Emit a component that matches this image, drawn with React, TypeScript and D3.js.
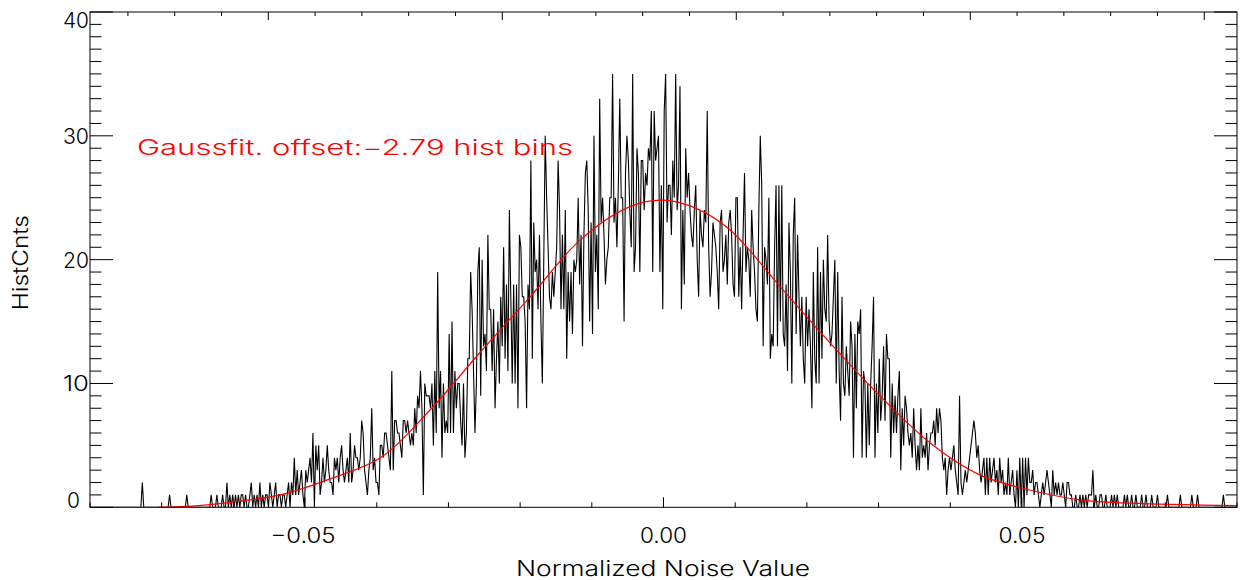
import React from "react";
import * as d3 from "d3";

// ---------------- data ----------------
const binStart = -0.08;
const binWidth = 0.0002;
const histCounts: number[] = [
  0,0,0,0,0,0,0,0,0,0, 0,0,0,0,0,0,0,0,0,0, 0,0,0,0,0,0,0,0,0,0, 0,0,0,0,0,0,2,0,0,0,
  0,0,0,0,0,0,0,0,0,0, 0,0,0,0,0,1,0,0,0,0, 0,0,0,0,0,0,0,1,0,0, 0,0,0,0,0,0,0,0,0,0,
  0,0,0,0,1,0,0,0,1,0, 0,0,1,0,0,2,0,1,0,1, 0,1,0,1,0,1,1,0,1,0, 0,1,2,0,1,0,1,0,2,0,
  1,0,1,1,0,2,1,0,1,2, 0,1,1,0,1,1,0,1,2,0, 2,1,4,1,3,1,2,3,1,0, 3,2,3,4,2,6,0,5,3,5,
  1,2,4,2,3,5,3,2,2,1, 4,3,4,2,4,5,3,2,3,4, 2,6,2,3,5,4,4,3,4,7, 6,3,2,1,3,4,8,3,4,2,
  2,1,5,5,4,6,6,5,4,3, 11,3,7,7,6,6,5,4,7,7, 6,7,6,5,6,5,8,6,9,8, 11,8,1,10,9,9,9,8,10,5,
  11,6,19,8,11,4,10,6,7,6, 14,6,15,6,11,8,10,10,7,5, 10,4,6,12,12,19,16,11,6,10, 19,21,9,20,13,14,11,22,16,16,
  11,16,8,12,15,10,17,13,21,12, 18,11,24,17,10,18,10,18,8,22, 21,17,17,15,8,18,16,28,12,23, 19,20,16,22,15,10,20,30,25,21,
  17,16,19,17,19,21,28,24,16,22, 16,24,12,19,15,19,14,20,19,20, 25,18,22,13,22,27,28,24,15,23, 14,30,19,22,16,33,23,25,22,18,
  20,21,25,25,35,23,25,21,26,33, 25,25,15,27,30,28,24,21,35,19, 21,29,27,19,28,28,24,27,26,29, 28,32,19,32,28,29,30,19,26,16,
  32,35,23,26,26,22,28,25,35,24, 26,34,16,24,18,29,25,27,24,22, 21,24,26,20,17,24,22,21,24,23, 32,21,17,19,23,22,21,19,16,23,
  24,19,20,22,18,23,24,22,18,17, 25,25,17,21,16,22,27,19,21,20, 17,24,21,19,16,15,24,30,26,13, 21,20,18,25,12,14,13,21,26,13,
  26,15,26,14,13,18,11,23,19,10, 22,25,14,22,17,13,17,12,10,17, 13,16,13,8,19,12,10,21,10,19, 12,20,16,15,22,15,13,14,17,20,
  10,19,11,7,17,10,9,13,11,9, 15,13,4,14,8,15,14,16,4,11, 10,4,10,5,10,13,17,4,10,6, 12,7,9,13,7,14,12,12,4,10,
  6,9,6,9,11,3,8,5,9,8, 6,5,6,4,8,5,3,5,3,8, 4,5,4,6,3,5,6,6,7,5, 8,6,8,7,4,3,4,1,3,4,
  3,4,5,3,2,1,9,2,1,2, 3,2,3,4,5,6,7,6,4,5, 3,2,3,4,1,4,1,4,2,3, 4,2,3,1,4,2,3,1,2,1,
  4,1,2,3,1,0,3,0,4,0, 4,0,4,1,4,2,2,3,1,2, 2,1,0,1,2,1,2,3,2,1, 0,3,1,2,1,2,1,1,2,1,
  0,2,2,1,1,0,0,1,0,0, 1,0,1,0,1,0,1,1,1,3, 0,1,0,0,1,1,0,0,1,0, 0,0,1,0,1,0,1,0,0,0,
  0,1,0,1,0,0,1,0,0,1, 0,0,0,1,0,0,1,0,0,0, 1,0,0,0,1,0,0,0,0,0, 0,1,0,0,0,0,0,0,0,0,
  1,0,0,0,0,0,0,0,1,0, 0,0,1,0,0,0,0,0,0,0, 0,0,0,0,0,0,0,0,0,0, 1,0,0,0,0,0,0,0,0,0,
];

// Gaussian fit curve
const fitX = [-0.0705, -0.0653, -0.0604, -0.0535, -0.0465, -0.0395, -0.0325, -0.0256, -0.0186, -0.0116, -0.0046, 0.0, 0.0047, 0.0093, 0.0163, 0.0232, 0.0302, 0.0372, 0.0442, 0.0511, 0.0581, 0.0651, 0.08];
const fitY = [0.0, 0.12, 0.4, 1.0, 2.3, 4.0, 7.9, 12.5, 17.0, 21.6, 24.3, 24.8, 24.1, 22.4, 17.8, 13.3, 9.0, 5.2, 2.6, 1.4, 0.6, 0.33, 0.13];

const xMajorTicks = [-0.05, 0.0, 0.05];
const xMajorLabels = ["\u22120.05", "0.00", "0.05"];
const xMinorTicks = [-0.08, -0.07, -0.06, -0.04, -0.03, -0.02, -0.01, 0.01, 0.02, 0.03, 0.04, 0.06, 0.07, 0.08];
const yMajorTicks = [0, 10, 20, 30, 40];
const yMajorLabels = ["0", "10", "20", "30", "40"];
const yMinorTicks = d3.range(0, 41, 1).filter((v) => v % 10 !== 0);
// secondary (unlabelled) top axis
const topDomain = [11.9, 257.0];
const topMajorTicks = [50, 100, 150, 200, 250];
const topMinorTicks = d3.range(20, 257, 10).filter((v) => v % 50 !== 0);

const xTitle = "Normalized Noise Value";
const yTitle = "HistCnts";
const fitNote = "Gaussfit. offset:\u22122.79 hist bins";

// ---------------- layout ----------------
const W = 1240;
const H = 580;
const L = 90;
const R = 1237;
const T = 12;
const B = 507.3;
const FONT = "Inter, Roboto, 'DejaVu Sans', sans-serif";
const FW = 300;

export default function App() {
  const x = d3.scaleLinear().domain([-0.08, 0.08]).range([L, R]);
  const y = d3.scaleLinear().domain([0, 40]).range([B, T]);
  const xTop = d3.scaleLinear().domain(topDomain).range([L, R]);

  const histPts: [number, number][] = histCounts.map((c, i) => [binStart + (i + 0.5) * binWidth, c]);
  const histLine = d3
    .line<[number, number]>()
    .x((d) => x(d[0]))
    .y((d) => y(d[1]));
  const fitLine = d3
    .line<[number, number]>()
    .x((d) => x(d[0]))
    .y((d) => y(d[1]))
    .curve(d3.curveCatmullRom.alpha(0.5));
  const fitPts: [number, number][] = fitX.map((v, i) => [v, fitY[i]]);

  const xMajLen = 10;
  const xMinLen = 5;
  const yMajLen = 23;
  const yMinLen = 11.5;
  const topMajLen = 8;
  const topMinLen = 4;

  const ax = { stroke: "#000", strokeWidth: 1, fill: "none" } as const;
  const txt = { fontSize: 21, fontWeight: FW, lengthAdjust: "spacingAndGlyphs" } as const;

  return (
    <svg
      width={W}
      height={H}
      viewBox={`0 0 ${W} ${H}`}
      style={{ position: "absolute", left: 0, top: 0, background: "#fff" }}
      fontFamily={FONT}
    >
      <rect x={0} y={0} width={W} height={H} fill="#fff" />
      <defs>
        <clipPath id="plotClip">
          <rect x={L} y={T} width={R - L} height={B - T} />
        </clipPath>
      </defs>

      {/* data */}
      <g clipPath="url(#plotClip)">
        <path d={histLine(histPts) || ""} fill="none" stroke="#000" strokeWidth={1.1} strokeLinejoin="miter" />
        <path d={fitLine(fitPts) || ""} fill="none" stroke="#ff0000" strokeWidth={1.2} />
      </g>

      {/* box */}
      <rect x={L} y={T} width={R - L} height={B - T} {...ax} />

      {/* bottom axis ticks */}
      {xMajorTicks.map((t) => (
        <line key={"xb" + t} x1={x(t)} x2={x(t)} y1={B} y2={B - xMajLen} {...ax} />
      ))}
      {xMinorTicks.map((t) => (
        <line key={"xbm" + t} x1={x(t)} x2={x(t)} y1={B} y2={B - xMinLen} {...ax} />
      ))}
      {xMajorTicks.map((t, i) => (
        <text
          key={"xl" + t}
          x={x(t) - (i === 0 ? 2 : 0)}
          y={543}
          textAnchor="middle"
          fill="#000"
          {...txt}
          textLength={i === 0 ? 65 : 47}
        >
          {xMajorLabels[i]}
        </text>
      ))}

      {/* top axis ticks */}
      {topMajorTicks.map((t) => (
        <line key={"xt" + t} x1={xTop(t)} x2={xTop(t)} y1={T} y2={T + topMajLen} {...ax} />
      ))}
      {topMinorTicks.map((t) => (
        <line key={"xtm" + t} x1={xTop(t)} x2={xTop(t)} y1={T} y2={T + topMinLen} {...ax} />
      ))}

      {/* left & right axis ticks */}
      {yMajorTicks.map((t) => (
        <g key={"y" + t}>
          <line x1={L} x2={L + yMajLen} y1={y(t)} y2={y(t)} {...ax} />
          <line x1={R} x2={R - yMajLen} y1={y(t)} y2={y(t)} {...ax} />
        </g>
      ))}
      {yMinorTicks.map((t) => (
        <g key={"ym" + t}>
          <line x1={L} x2={L + yMinLen} y1={y(t)} y2={y(t)} {...ax} />
          <line x1={R} x2={R - yMinLen} y1={y(t)} y2={y(t)} {...ax} />
        </g>
      ))}
      {yMajorTicks.map((t, i) => (
        <text
          key={"yl" + t}
          x={t === 0 ? 80 : 89}
          y={Math.min(Math.max(y(t), 20), 500) + 8}
          textAnchor="end"
          fill="#000"
          {...txt}
          textLength={t === 0 ? 13 : 26}
        >
          {yMajorLabels[i]}
        </text>
      ))}

      {/* axis titles */}
      <text x={663} y={576} textAnchor="middle" fill="#000" {...txt} textLength={294}>
        {xTitle}
      </text>
      <text
        transform={`translate(28, ${(T + B) / 2 + 3}) rotate(-90)`}
        textAnchor="middle"
        fill="#000"
        {...txt}
        textLength={95}
      >
        {yTitle}
      </text>

      {/* fit annotation */}
      <text x={137} y={155} fill="#ff0000" {...txt} textLength={436}>
        {fitNote}
      </text>
    </svg>
  );
}
